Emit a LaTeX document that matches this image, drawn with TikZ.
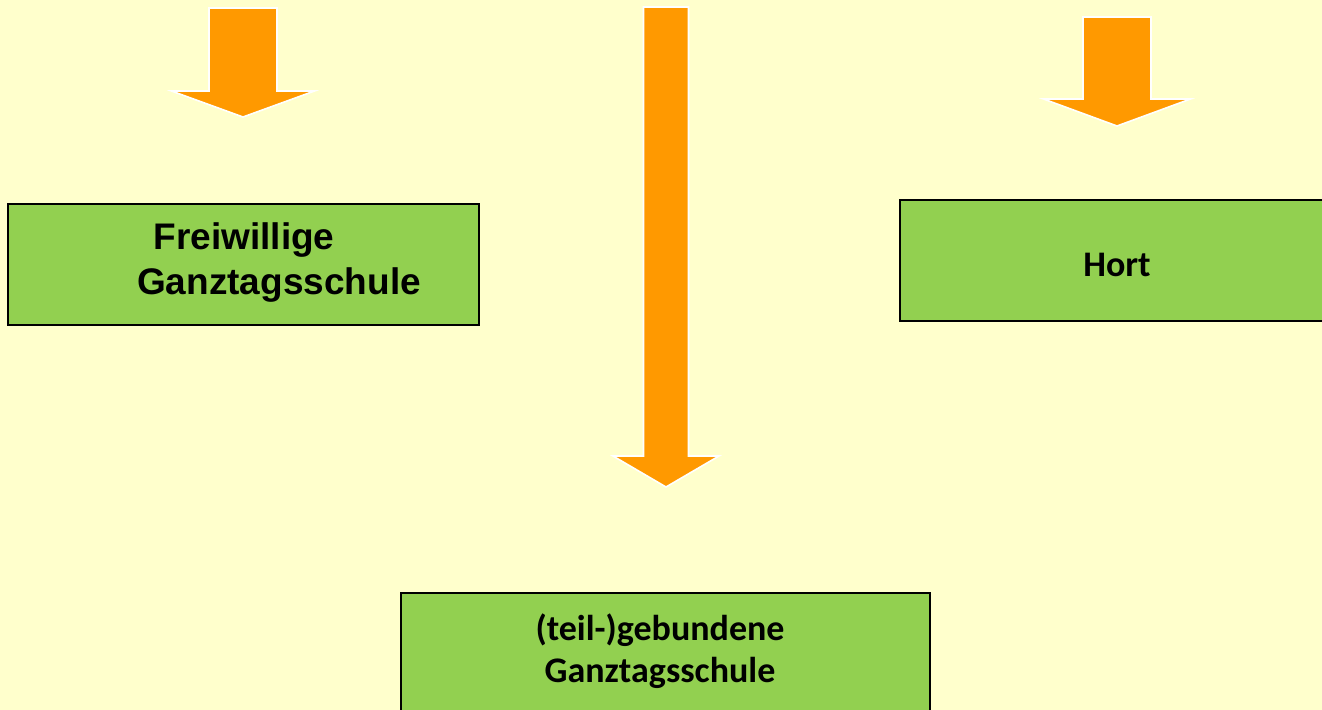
\documentclass[tikz,border=0pt]{standalone}
\usepackage{fontspec}
\usepackage{tikz}
\usetikzlibrary{positioning}
\newfontfamily\arialfont{Liberation Sans}
\newfontfamily\calibrifont{Carlito}
\definecolor{paper}{HTML}{FFFFCC}
\definecolor{pfeil}{HTML}{FF9900}
\definecolor{kasten}{HTML}{92D050}
\tikzset{box/.style={draw=black,fill=kasten,line width=1pt,inner sep=0pt},
  boxtext/.style={align=center,font=\calibrifont\bfseries\fontsize{18}{21}\selectfont}}

\begin{document}
\begin{tikzpicture}[line join=miter,x=0.5pt,y=-0.5pt]
\fill[paper] (0,0) rectangle (1322,710);
\useasboundingbox (0,0) rectangle (1322,710);
\clip (0,0) rectangle (1322,710);
\foreach \cx/\top/\base/\tip/\sw/\hw in {243/8/91/117/34/71.5,666/7/456/487/22.5/53,1117/17/99/126/34/73.5}
\draw[fill=pfeil,draw=white,line width=0.8pt] ({\cx-\sw},\top) -- ({\cx+\sw},\top) -- ({\cx+\sw},\base) -- ({\cx+\hw},\base) -- (\cx,\tip) -- ({\cx-\hw},\base) -- ({\cx-\sw},\base) -- cycle;
\node[box,minimum width=235.5pt,minimum height=60.5pt] (fgs) at (243.5,264.5) {};
\node[align=center,font=\arialfont\bfseries\fontsize{18.5}{22.5}\selectfont] (fgslabel) at (279,263) {Freiwillige\hspace*{35pt}\\Ganztagsschule};
\node[box,minimum width=222.5pt,minimum height=60.5pt] (hort) at (1122.5,260.5) {};
\node[boxtext] (hortlabel) at (1117,265) {Hort};
\node[box,minimum width=264.5pt,minimum height=73.5pt] (ggs) at (665.5,666.5) {};
\node[boxtext] (ggslabel) at (660,651) {(teil-)gebundene\\Ganztagsschule};
\end{tikzpicture}
\end{document}
